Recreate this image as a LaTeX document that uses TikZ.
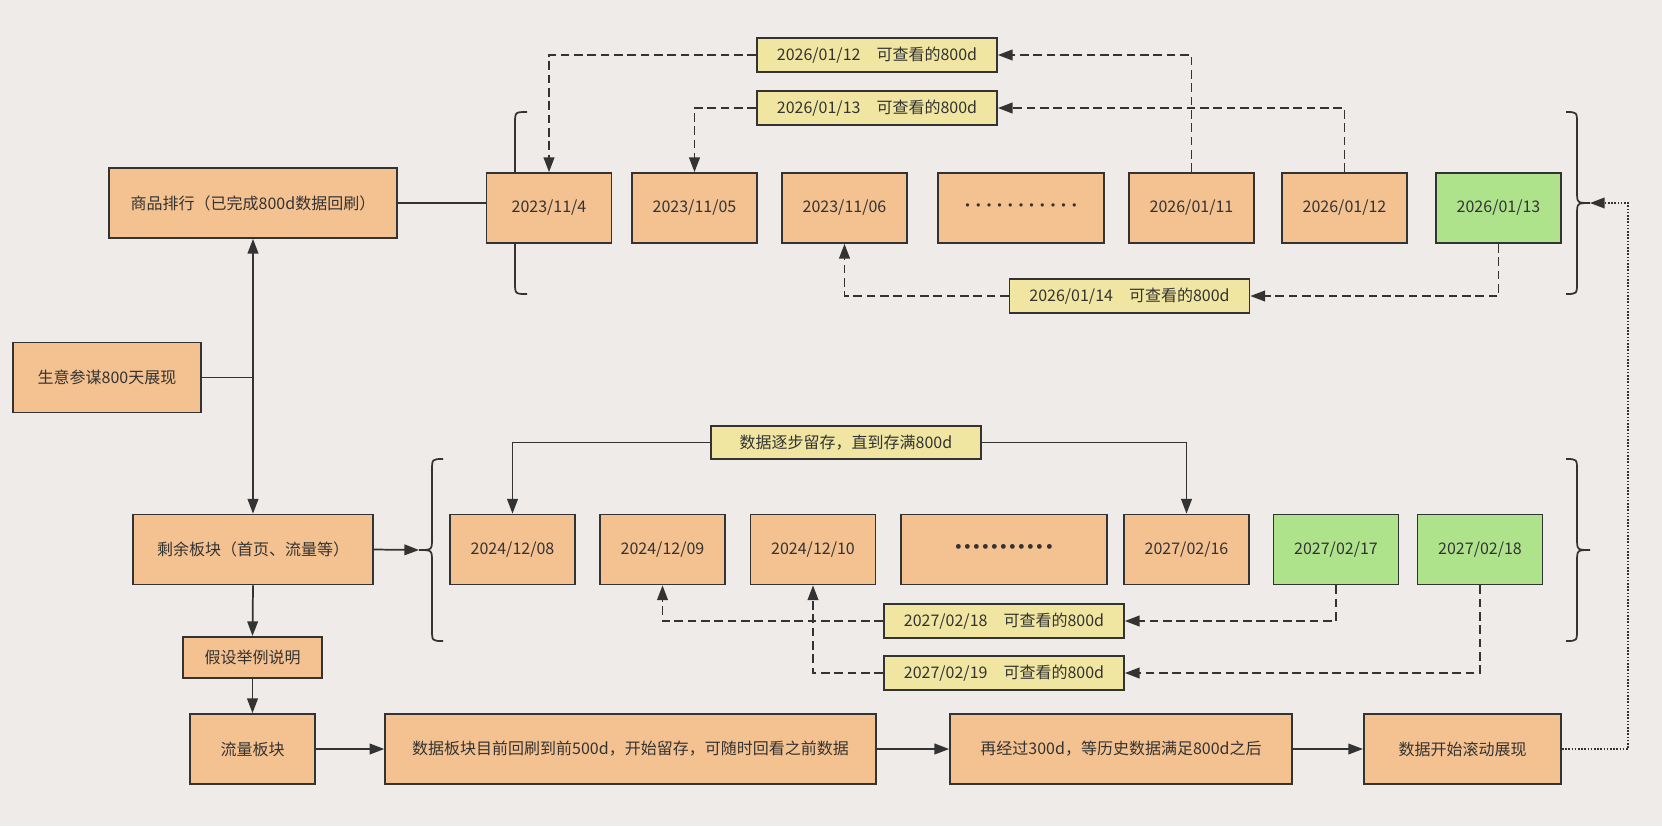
\documentclass[tikz,border=0pt]{standalone}
\usepackage{fontspec}
\setmainfont{Noto Sans CJK SC}
\usetikzlibrary{arrows.meta}
\definecolor{node_orange}{RGB}{244,193,144}
\definecolor{node_green}{RGB}{174,227,140}
\definecolor{node_yellow}{RGB}{240,229,161}
\definecolor{edge_gray}{RGB}{51,51,51}
\definecolor{back_gray}{RGB}{238,235,233}

\begin{document}
\begin{tikzpicture}[x=0.75pt,y=-0.75pt,line width=1.3pt,color=edge_gray,>={Triangle[length=11pt,width=8pt]}]
    \tikzstyle{box}=[draw=edge_gray, rectangle, fill=node_orange, text=edge_gray, inner sep=0pt, minimum height=52.5pt, font=\fontsize{12}{14}\selectfont]
    \tikzstyle{day}=[style=box, minimum width=93.75pt]
    \tikzstyle{now}=[style=day, fill=node_green]
    \tikzstyle{note}=[style=box, fill=node_yellow, minimum width=180pt, minimum height=25.5pt]
    \tikzstyle{link}=[->]
    \tikzstyle{back}=[->, dash pattern=on 6.5pt off 3.5pt]
    \tikzstyle{roll}=[->, dash pattern=on 1.2pt off 1.2pt]
    \fill[back_gray] (0,0) rectangle (1662,826);
    \useasboundingbox (0,0) rectangle (1662,826);

    % braces
    \draw (527,112) .. controls (515,112) .. (515,124) -- (515,196) .. controls (515,208) .. (503,208)
          .. controls (515,208) .. (515,220) -- (515,282) .. controls (515,294) .. (527,294);
    \draw (1566,112) .. controls (1577,112) .. (1577,124) -- (1577,191) .. controls (1577,203) .. (1590,203)
          .. controls (1577,203) .. (1577,215) -- (1577,282) .. controls (1577,294) .. (1566,294);
    \draw (443,459) .. controls (432,459) .. (432,471) -- (432,538) .. controls (432,550) .. (419,550)
          .. controls (432,550) .. (432,562) -- (432,629) .. controls (432,641) .. (443,641);
    \draw (1566,459) .. controls (1577,459) .. (1577,471) -- (1577,538) .. controls (1577,550) .. (1590,550)
          .. controls (1577,550) .. (1577,562) -- (1577,629) .. controls (1577,641) .. (1566,641);
    \coordinate (tip_r1) at (1590,203);
    \coordinate (tip_l2) at (419,550);

    % left column
    \node[box, minimum width=216pt] (shop) at (253,203)   {商品排行（已完成800d数据回刷）};
    \node[box, minimum width=141pt] (biz)  at (107,377.5) {生意参谋800天展现};
    \node[box, minimum width=180pt] (rest) at (253,549.5) {剩余板块（首页、流量等）};
    \node[box, minimum width=104pt, minimum height=31pt] (hyp) at (252.5,657.5) {假设举例说明};

    % first row
    \node[day] (d1) at (549,208)    {2023/11/4};
    \node[day] (d2) at (694.5,208)  {2023/11/05};
    \node[day] (d3) at (844.5,208)  {2023/11/06};
    \node[day, minimum width=124.5pt] (d4) at (1021,208)
        {\foreach \i in {1,...,11}{\makebox[8pt]{·}}};
    \node[day] (d5) at (1191.5,208) {2026/01/11};
    \node[day] (d6) at (1344.5,208) {2026/01/12};
    \node[now] (d7) at (1498.5,208) {2026/01/13};
    \node[note] (l1) at (877,55)    {2026/01/12\quad 可查看的800d};
    \node[note] (l2) at (877,108)   {2026/01/13\quad 可查看的800d};
    \node[note] (l3) at (1129.5,296) {2026/01/14\quad 可查看的800d};

    % second row
    \node[day] (e1) at (512.5,549.5) {2024/12/08};
    \node[day] (e2) at (662.5,549.5) {2024/12/09};
    \node[day] (e3) at (813,549.5)   {2024/12/10};
    \node[day, minimum width=154.5pt] (e4) at (1004,549.5)
        {\foreach \i in {1,...,11}{\makebox[6.8pt]{\fontsize{17}{17}\selectfont ·}}};
    \node[day] (e5) at (1186.5,549.5) {2027/02/16};
    \node[now] (e6) at (1336,549.5)   {2027/02/17};
    \node[now] (e7) at (1480,549.5)   {2027/02/18};
    \node[note, minimum width=202pt, minimum height=25pt] (keep) at (846,442.5) {数据逐步留存，直到存满800d};
    \node[note] (l4) at (1004,621) {2027/02/18\quad 可查看的800d};
    \node[note] (l5) at (1004,673) {2027/02/19\quad 可查看的800d};

    % bottom row
    \node[box, minimum width=93.75pt] (flow) at (252.5,749) {流量板块};
    \node[box, minimum width=368pt]   (s1)   at (630.5,749) {数据板块目前回刷到前500d，开始留存，可随时回看之前数据};
    \node[box, minimum width=256.5pt] (s2)   at (1121,749)  {再经过300d，等历史数据满足800d之后};
    \node[box, minimum width=148pt]   (s3)   at (1462.5,749) {数据开始滚动展现};

    % connectors
    \draw[<->] (shop.south) -- (rest.north);
    \draw (biz.east) -- (biz.east -| shop.south);
    \draw (shop.east) -- (shop.east -| d1.west);
    \draw[link] (rest.east) -- (tip_l2);
    \draw[link] (rest.south) -- (hyp.north);
    \draw[link] (hyp.south) -- (flow.north);
    \draw[link] (flow.east) -- (s1.west);
    \draw[link] (s1.east) -- (s2.west);
    \draw[link] (s2.east) -- (s3.west);
    \draw[roll] (s3.east) -| ([xshift=28.5pt]tip_r1) -- (tip_r1);

    \draw[back] (d5.north) |- (l1.east);
    \draw[back] (l1.west) -| (d1.north);
    \draw[back] (d6.north) |- (l2.east);
    \draw[back] (l2.west) -| (d2.north);
    \draw[back] (d7.south) |- (l3.east);
    \draw[back] (l3.west) -| (d3.south);

    \draw[link] (keep.west) -| (e1.north);
    \draw[link] (keep.east) -| (e5.north);
    \draw[back] (e6.south) |- (l4.east);
    \draw[back] (l4.west) -| (e2.south);
    \draw[back] (e7.south) |- (l5.east);
    \draw[back] (l5.west) -| (e3.south);
\end{tikzpicture}
\end{document}
